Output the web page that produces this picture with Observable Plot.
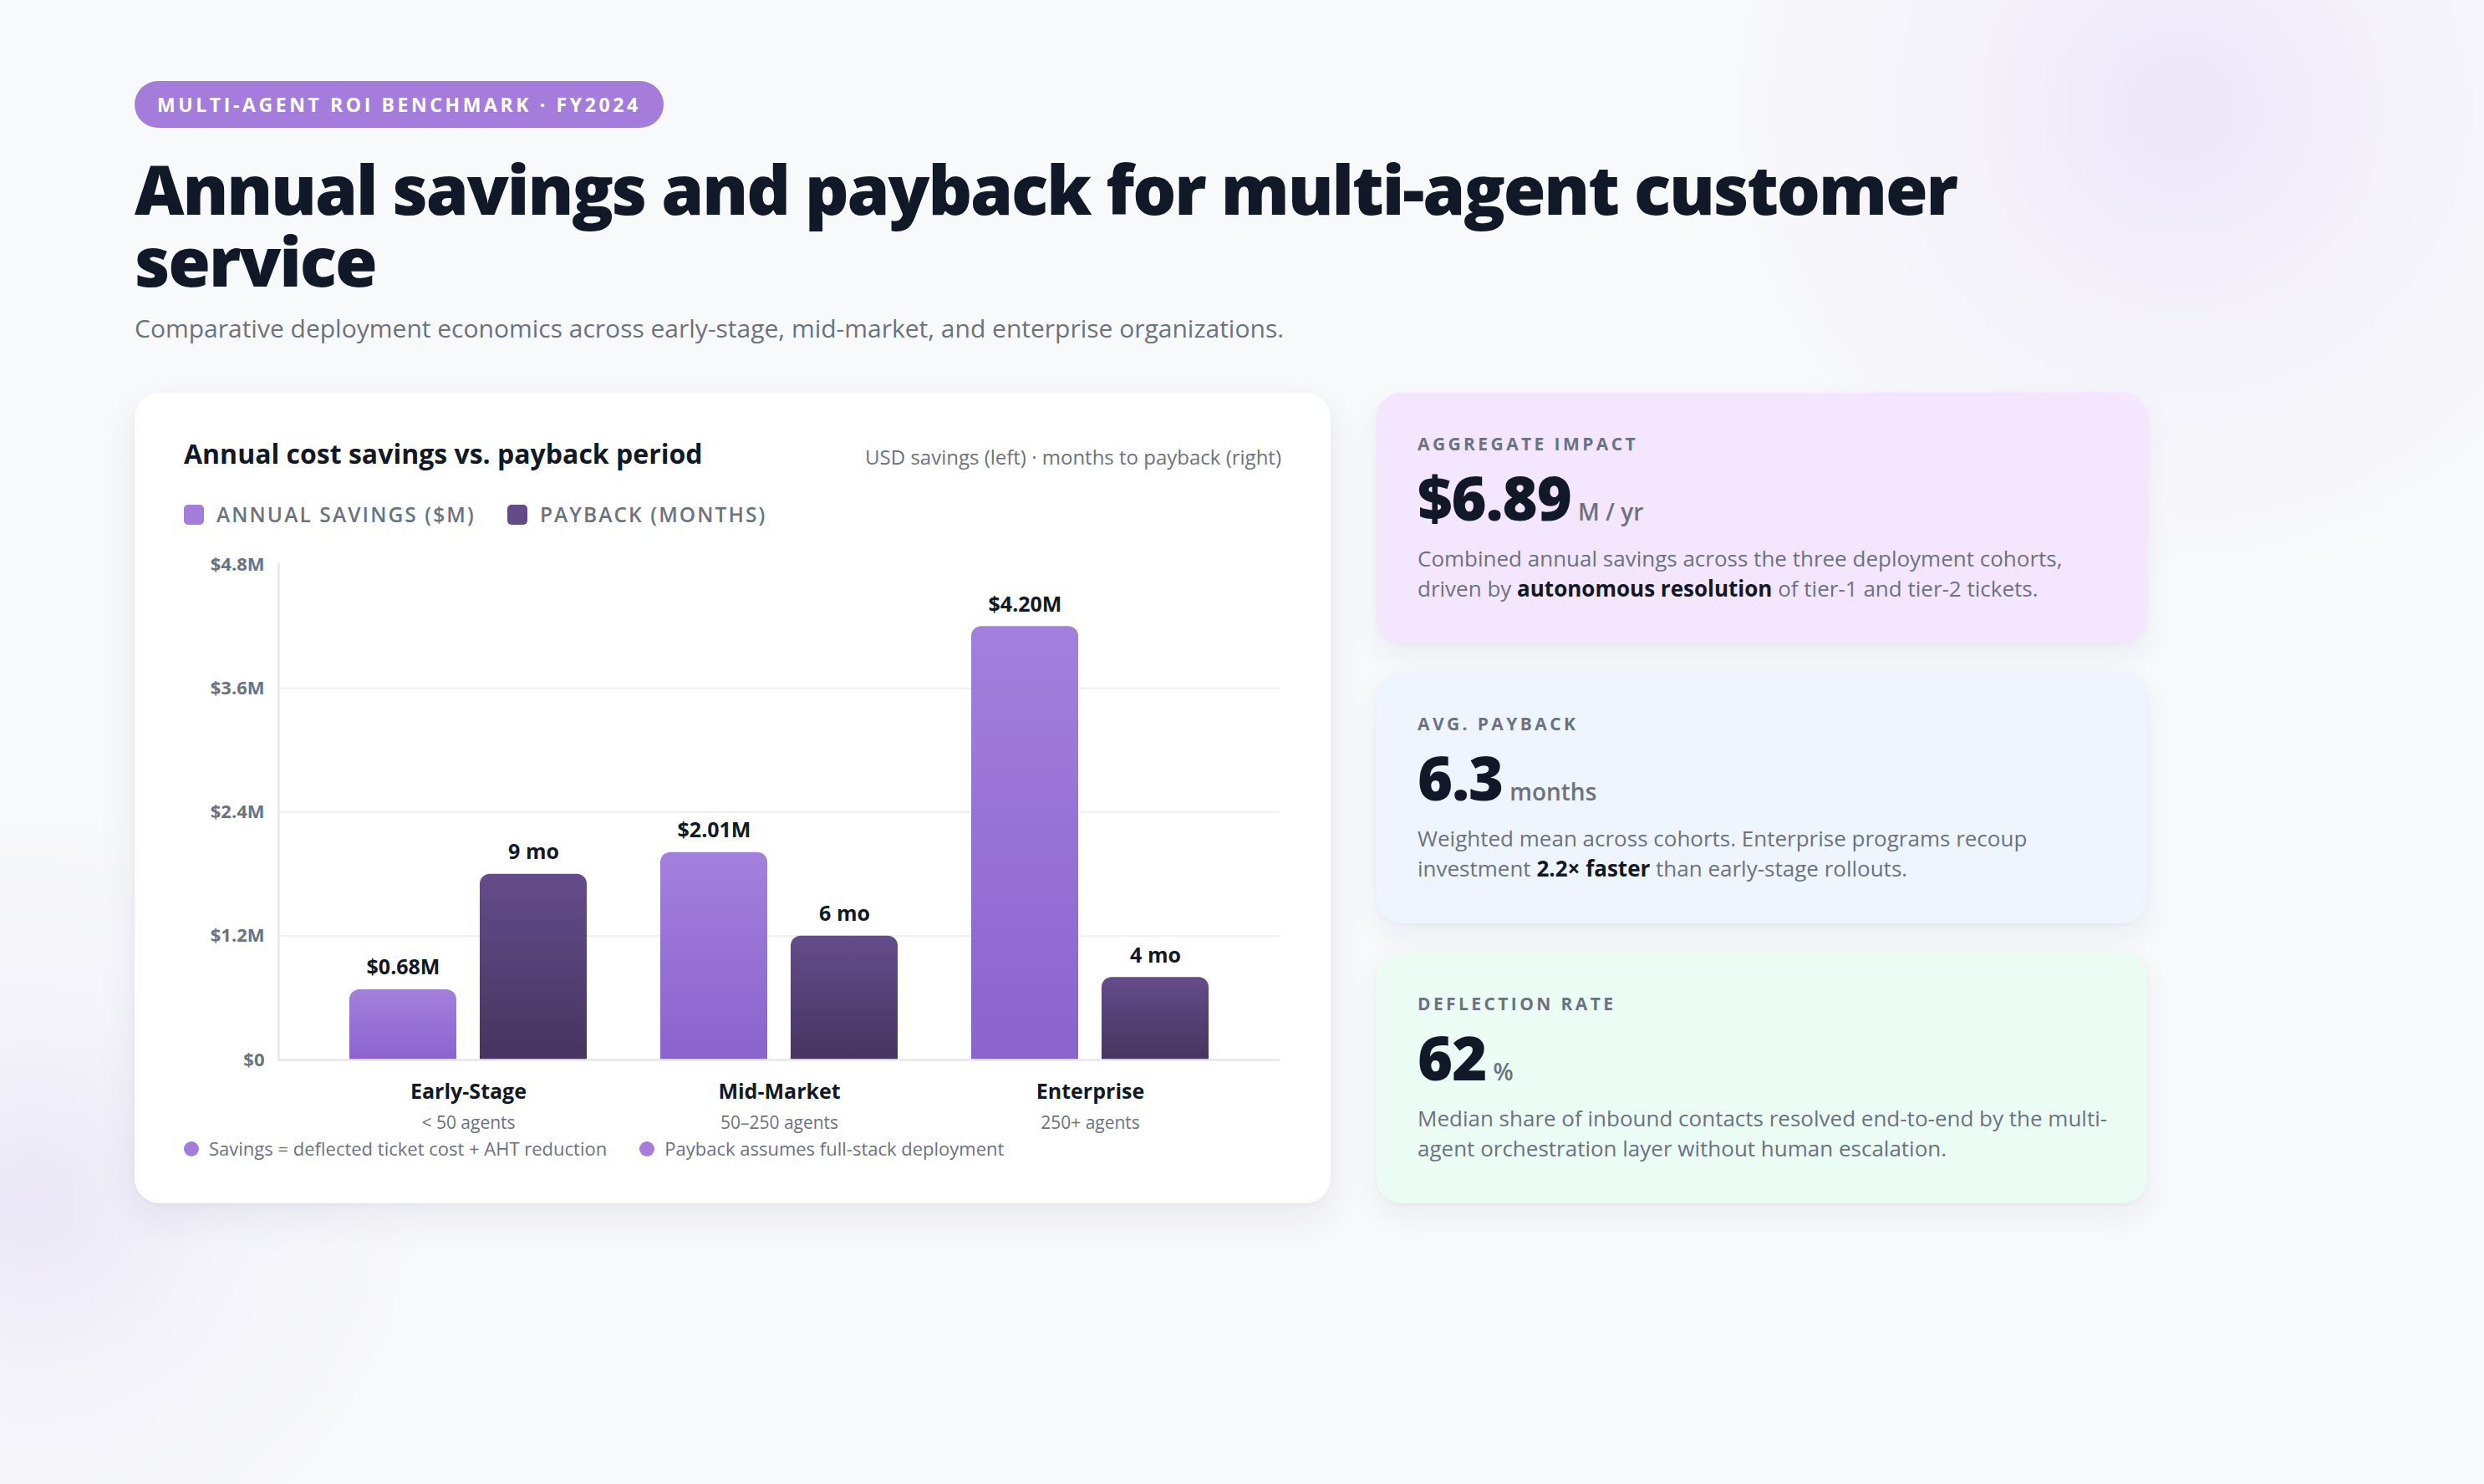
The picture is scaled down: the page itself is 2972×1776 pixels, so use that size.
<!DOCTYPE html>
<html>
<head>
<meta charset="utf-8">
<script src="https://cdn.jsdelivr.net/npm/d3@7"></script>
<script src="https://cdn.jsdelivr.net/npm/@observablehq/plot@0.6"></script>
<style>
  html, body { margin: 0; padding: 0; }
  body {
    width: 2972px; height: 1776px; position: relative; overflow: hidden;
    font-family: "Open Sans", "Noto Sans", sans-serif;
    background:
      radial-gradient(circle at 2610px 130px, rgba(220, 200, 245, 0.42) 0px, rgba(230, 215, 248, 0.18) 280px, rgba(248, 249, 251, 0) 560px),
      radial-gradient(circle at 40px 1440px, rgba(215, 205, 240, 0.42) 0px, rgba(225, 218, 245, 0.18) 220px, rgba(248, 249, 251, 0) 480px),
      #f8f9fb;
  }
  .abs { position: absolute; }
  .pill {
    left: 161px; top: 97px; height: 56px; padding: 0 27px; border-radius: 28px;
    background: #a47ddc; color: #fff; font-size: 23px; font-weight: 700; letter-spacing: 3.6px;
    line-height: 56px; white-space: nowrap;
  }
  .title {
    left: 161px; top: 182px; max-width: 2409px; font-size: 82px; line-height: 86px; font-weight: 800;
    color: #111827; letter-spacing: -2.1px; margin: 0;
  }
  .subtitle { left: 161px; top: 375px; font-size: 30px; line-height: 36px; color: #6b7280; white-space: nowrap; }
  .card {
    left: 161px; top: 470px; width: 1431px; height: 970px; background: #fff; border-radius: 30px;
    box-shadow: 0 18px 48px rgba(40, 30, 80, 0.07), 0 2px 6px rgba(20, 20, 40, 0.04);
  }
  .card-title { left: 59px; top: 57px; font-size: 32px; line-height: 32px; font-weight: 700; color: #111827; white-space: nowrap; }
  .card-note { right: 59px; top: 65px; font-size: 24px; line-height: 24px; color: #6b7280; white-space: nowrap; }
  .legend { left: 59px; top: 134px; height: 24px; display: flex; align-items: center; white-space: nowrap; }
  .legend .sw { width: 24px; height: 24px; border-radius: 5px; margin-right: 15px; }
  .legend .lt { font-size: 24.5px; line-height: 24px; font-weight: 600; letter-spacing: 2.1px; color: #6b7280; margin-right: 38px; }
  .chart { left: 60px; top: 180px; }
  .notes { left: 59px; top: 893px; height: 22px; display: flex; align-items: center; white-space: nowrap; }
  .notes .dot { width: 18px; height: 18px; border-radius: 50%; background: #a47ddc; margin-right: 12px; margin-top: 2px; }
  .notes .nt { font-size: 22px; line-height: 22px; color: #6b7280; margin-right: 39px; }
  .kpi {
    left: 1647px; width: 922px; height: 300px; border-radius: 30px;
    box-shadow: 0 14px 36px rgba(40, 30, 80, 0.06), 0 2px 6px rgba(20, 20, 40, 0.03);
  }
  .kpi-label { left: 49px; top: 51px; font-size: 21px; line-height: 21px; font-weight: 700; letter-spacing: 3.4px; color: #6b7280; white-space: nowrap; }
  .kpi-value { left: 49px; top: 89px; font-size: 72px; line-height: 72px; font-weight: 800; color: #111827; letter-spacing: -1px; white-space: nowrap; }
  .kpi-value .unit { font-size: 28px; font-weight: 600; color: #6b7280; letter-spacing: 0; margin-left: 8px; }
  .kpi-desc { left: 49px; top: 180px; width: 835px; font-size: 26px; line-height: 36px; color: #6b7280; }
  .kpi-desc b { color: #111827; font-weight: 700; }
</style>
</head>
<body>
<script>
// ---- Data ----
const cohorts = ["Early-Stage", "Mid-Market", "Enterprise"];
const cohortSizes = ["< 50 agents", "50–250 agents", "250+ agents"];
const savingsM = [0.68, 2.01, 4.20];          // annual savings, $M
const paybackMonths = [9, 6, 4];               // months to payback
const savingsTicks = [0, 1.2, 2.4, 3.6, 4.8];  // left axis ticks ($M)
const savingsMax = 4.8;                        // left axis maximum
const paybackMax = 24;                         // right (hidden) axis maximum, months
const seriesNames = ["Annual savings ($M)", "Payback (months)"];
const seriesColors = ["#a47ddc", "#634b89"];
const footnotes = ["Savings = deflected ticket cost + AHT reduction", "Payback assumes full-stack deployment"];
const kpis = [
  {label: "Aggregate impact", value: "$6.89", unit: "M / yr", bg: "#f4e6fe",
   desc: 'Combined annual savings across the three deployment cohorts, driven by <b>autonomous resolution</b> of tier-1 and tier-2 tickets.'},
  {label: "Avg. payback", value: "6.3", unit: "months", bg: "#eef5ff",
   desc: 'Weighted mean across cohorts. Enterprise programs recoup investment <b>2.2× faster</b> than early-stage rollouts.'},
  {label: "Deflection rate", value: "62", unit: "%", bg: "#ebfcf4",
   desc: 'Median share of inbound contacts resolved end-to-end by the multi-agent orchestration layer without human escalation.'}
];

const rows = cohorts.map((c, i) => ({cohort: c, size: cohortSizes[i], savings: savingsM[i], payback: paybackMonths[i]}));
const paybackOnSavingsScale = d => d.payback * savingsMax / paybackMax;
const fmtTick = v => v === 0 ? "$0" : `$${v.toFixed(1)}M`;

// ---- Page scaffold ----
document.body.insertAdjacentHTML("beforeend", `
  <div class="abs pill">MULTI-AGENT ROI BENCHMARK · FY2024</div>
  <h1 class="abs title">Annual savings and payback for multi-agent customer service</h1>
  <div class="abs subtitle">Comparative deployment economics across early-stage, mid-market, and enterprise organizations.</div>
  <div class="abs card" id="card">
    <div class="abs card-title">Annual cost savings vs. payback period</div>
    <div class="abs card-note">USD savings (left) · months to payback (right)</div>
    <div class="abs legend">${seriesNames.map((n, i) => `<div class="sw" style="background:${seriesColors[i]}"></div><div class="lt">${n.toUpperCase()}</div>`).join("")}</div>
    <div class="abs chart" id="chart"></div>
    <div class="abs notes">${footnotes.map(t => `<div class="dot"></div><div class="nt">${t}</div>`).join("")}</div>
  </div>
  ${kpis.map((k, i) => `
    <div class="abs kpi" style="top:${470 + i * 335}px; background:${k.bg}">
      <div class="abs kpi-label">${k.label.toUpperCase()}</div>
      <div class="abs kpi-value">${k.value}<span class="unit">${k.unit}</span></div>
      <div class="abs kpi-desc">${k.desc}</div>
    </div>`).join("")}
`);

// ---- Chart ----
const svg = Plot.plot({
  width: 1311, height: 712,
  marginLeft: 112, marginRight: 1, marginTop: 25, marginBottom: 94,
  style: {fontFamily: "'Open Sans', sans-serif", background: "transparent", overflow: "visible"},
  x: {domain: cohorts, paddingInner: 0, paddingOuter: 0.108},
  y: {domain: [0, savingsMax]},
  marks: [
    Plot.gridY(savingsTicks.filter(t => t > 0 && t < savingsMax), {stroke: "#eff0f3", strokeOpacity: 1, strokeWidth: 2}),
    Plot.barY(rows, {x: "cohort", y: "savings", fill: "url(#gradSavings)", insetLeft: 44, insetRight: 200, ry1: 12}),
    Plot.barY(rows, {x: "cohort", y: paybackOnSavingsScale, fill: "url(#gradPayback)", insetLeft: 200, insetRight: 44, ry1: 12}),
    Plot.ruleY([0], {stroke: "#e5e7eb", strokeWidth: 2.5}),
    Plot.frame({anchor: "left", stroke: "#e5e7eb", strokeWidth: 2.5}),
    Plot.axisY(savingsTicks, {tickSize: 0, tickPadding: 17, tickFormat: fmtTick, fontSize: 22, fontWeight: 700, fill: "#6b7280", label: null}),
    Plot.axisX({tickSize: 0, tickPadding: 29, fontSize: 25, fontWeight: 700, fill: "#111827", label: null}),
    Plot.text(rows, {x: "cohort", text: "size", frameAnchor: "bottom", lineAnchor: "bottom", dy: 82, fontSize: 21, fill: "#6b7280"}),
    Plot.text(rows, {x: "cohort", y: "savings", text: d => `$${d.savings.toFixed(2)}M`, dx: -78, dy: -18, lineAnchor: "bottom", fontSize: 25, fontWeight: 700, fill: "#111827"}),
    Plot.text(rows, {x: "cohort", y: paybackOnSavingsScale, text: d => `${d.payback} mo`, dx: 78, dy: -18, lineAnchor: "bottom", fontSize: 25, fontWeight: 700, fill: "#111827"})
  ]
});
const ns = "http://www.w3.org/2000/svg";
const defs = document.createElementNS(ns, "defs");
defs.innerHTML = `
  <linearGradient id="gradSavings" x1="0" y1="0" x2="0" y2="1">
    <stop offset="0" stop-color="#a380dd"/><stop offset="1" stop-color="#8a63cd"/>
  </linearGradient>
  <linearGradient id="gradPayback" x1="0" y1="0" x2="0" y2="1">
    <stop offset="0" stop-color="#644c8a"/><stop offset="1" stop-color="#45355f"/>
  </linearGradient>`;
svg.insertBefore(defs, svg.firstChild);
document.getElementById("chart").appendChild(svg);
</script>
</body>
</html>
